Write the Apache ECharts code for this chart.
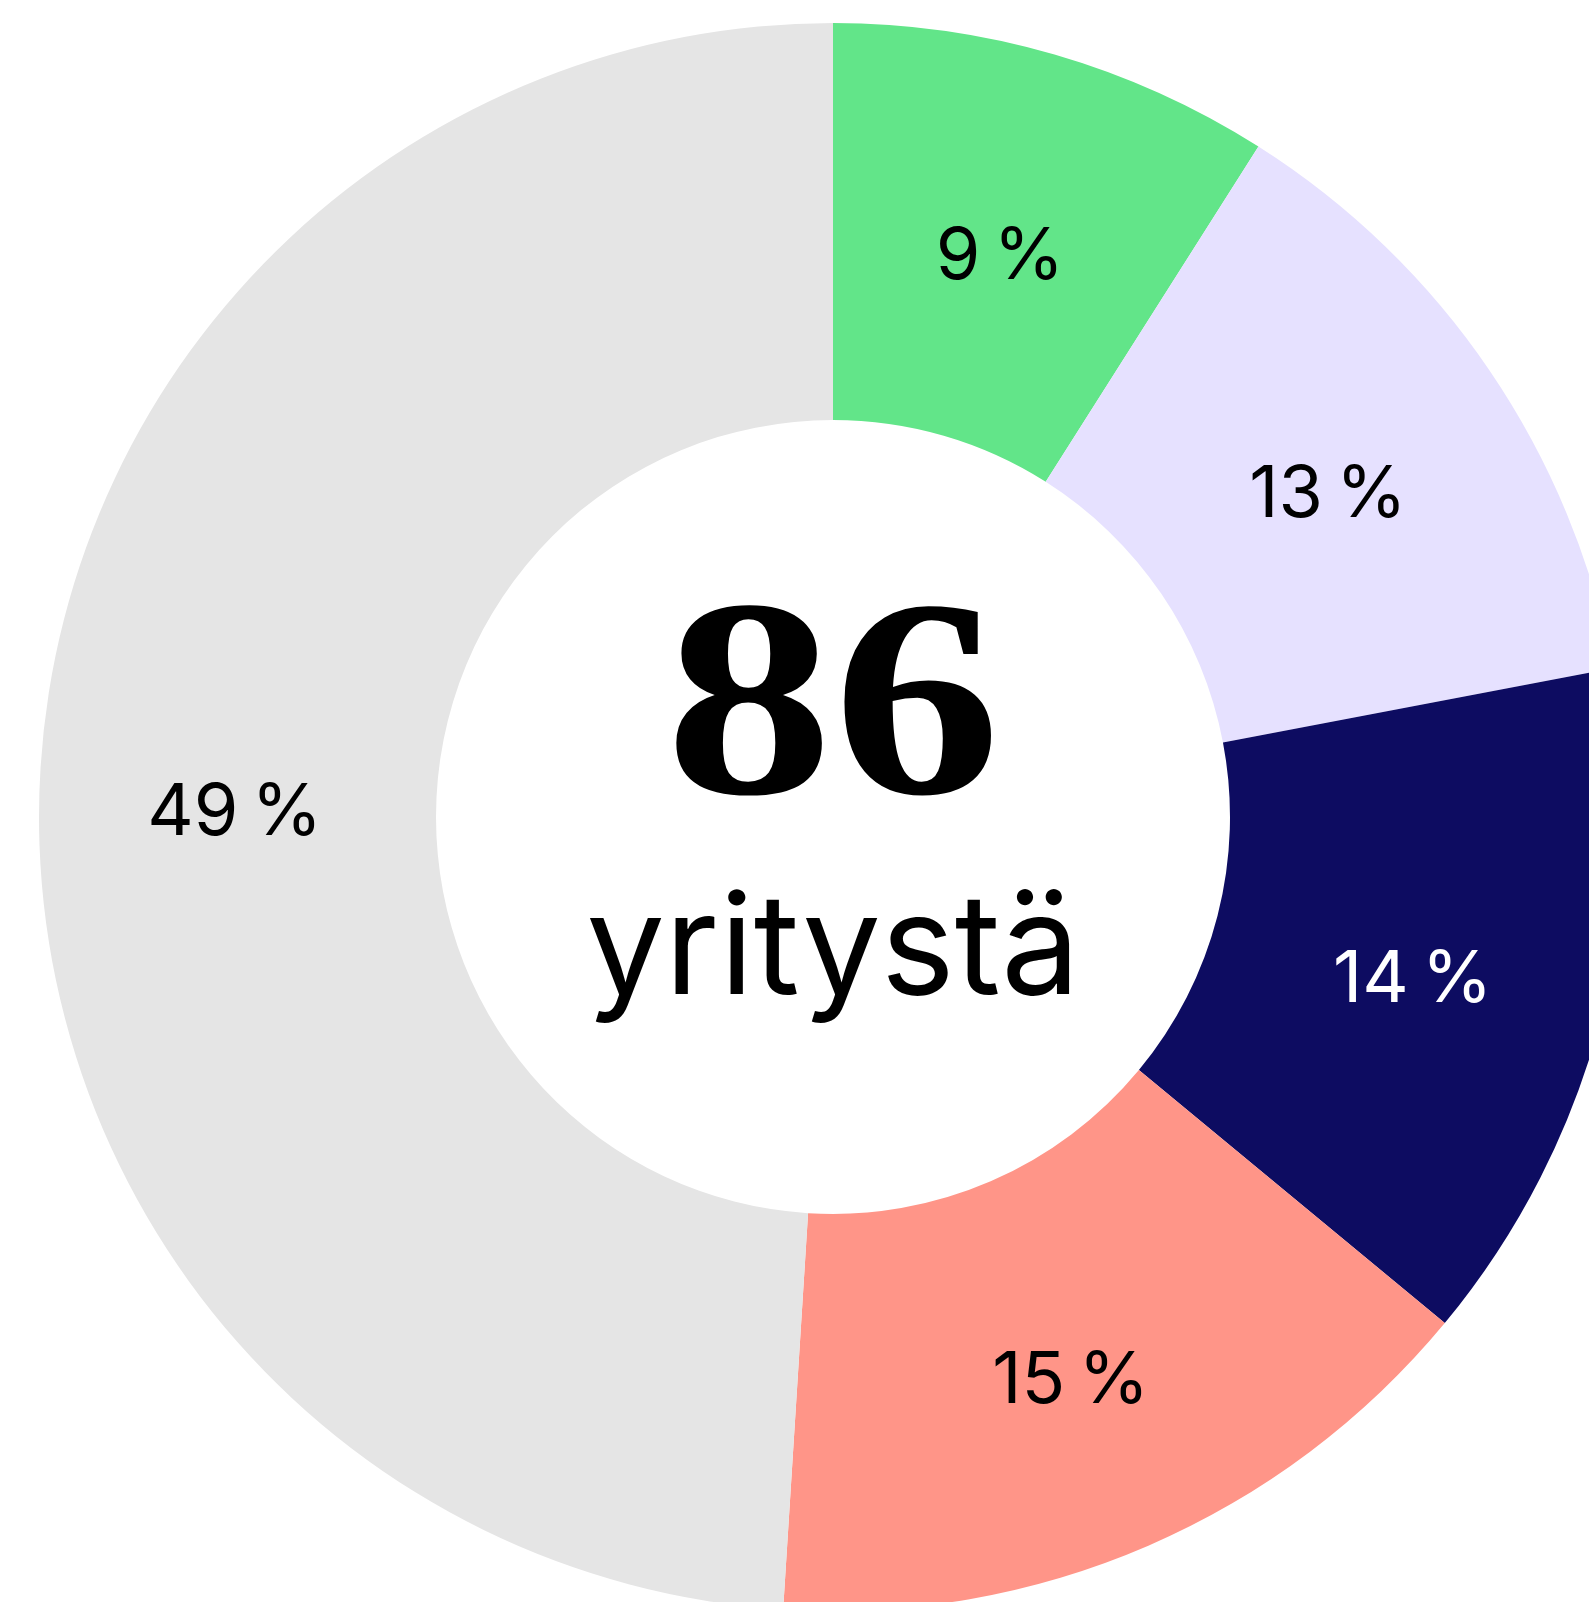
<!DOCTYPE html>
<html>
<head>
<meta charset="utf-8">
<script src="https://cdn.jsdelivr.net/npm/echarts@6/dist/echarts.min.js"></script>
<style>
  html, body { margin: 0; padding: 0; background: #fff; }
  #chart { width: 1589px; height: 1602px; }
</style>
</head>
<body>
<div id="chart"></div>
<script>
// shares of companies, percent (clockwise from top)
var categories = ["A", "B", "C", "D", "E"];
var shares = [9, 13, 14, 15, 49];
var sliceColors = ["#62E589", "#E6E1FF", "#0D0C61", "#FF9588", "#E5E5E5"];
var labelColors = ["#000", "#000", "#fff", "#000", "#000"];
var totalCompanies = 86;
var totalLabel = "yritystä";

var chartDom = document.getElementById("chart");
var myChart = echarts.init(chartDom);
var option;

option = {
  animation: false,
  series: [
    {
      type: "pie",
      center: [833, 817],
      radius: [397, 794],
      startAngle: 90,
      clockwise: true,
      silent: true,
      label: {
        show: true,
        position: "inside",
        fontFamily: "Inter",
        fontSize: 72,
        formatter: function (p) {
          return p.value + "\u202F%";
        },
      },
      labelLayout: { dy: 15 },
      labelLine: { show: false },
      data: shares.map(function (v, i) {
        return {
          name: categories[i],
          value: v,
          itemStyle: { color: sliceColors[i] },
          label: { color: labelColors[i] },
        };
      }),
    },
  ],
  graphic: [
    {
      type: "text",
      x: 833,
      y: 720,
      scaleX: 1.19,
      style: {
        text: String(totalCompanies),
        align: "center",
        verticalAlign: "middle",
        font: "bold 282px 'Liberation Serif'",
        fill: "#000",
      },
    },
    {
      type: "text",
      x: 833,
      y: 952,
      style: {
        text: totalLabel,
        align: "center",
        verticalAlign: "middle",
        font: "140px Inter",
        fill: "#000",
      },
    },
  ],
};

myChart.setOption(option);
</script>
</body>
</html>
